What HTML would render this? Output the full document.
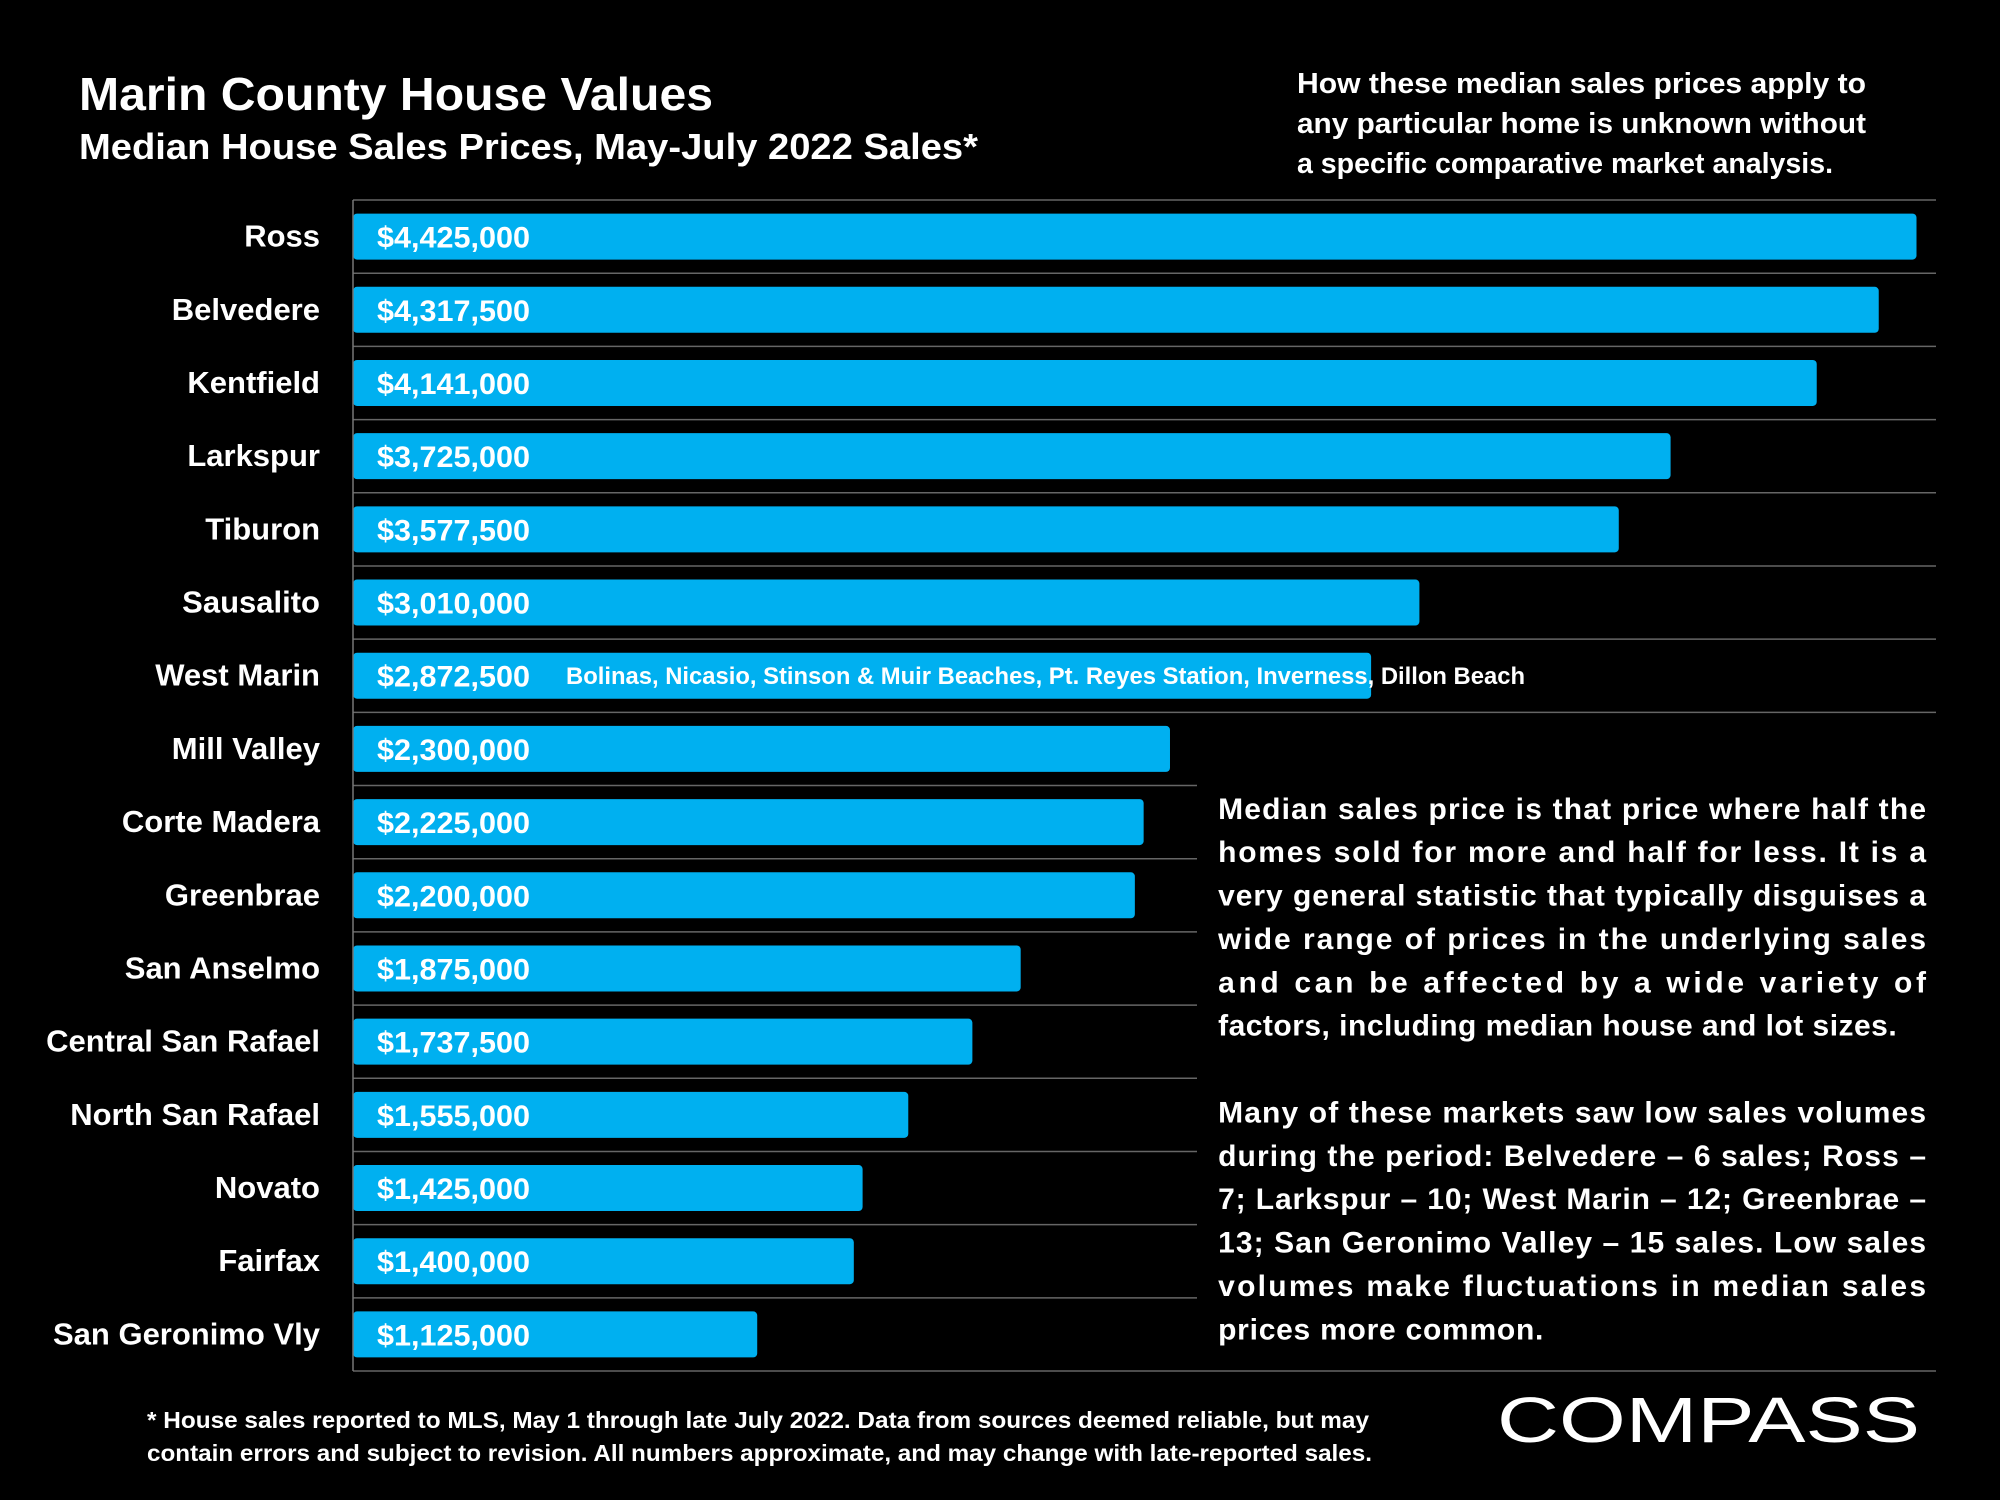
<!DOCTYPE html>
<html><head><meta charset="utf-8">
<style>
html,body{margin:0;padding:0;background:#000;}
svg{display:block;font-family:"Liberation Sans",sans-serif;font-weight:bold;}
</style></head>
<body>
<svg id="chart" width="2000" height="1500" viewBox="0 0 2000 1500">
<rect x="0" y="0" width="2000" height="1500" fill="#000"/>
<text x="79" y="110" font-size="46" fill="#fff" textLength="634" lengthAdjust="spacingAndGlyphs">Marin County House Values</text>
<text x="79" y="159" font-size="36" fill="#fff" textLength="899" lengthAdjust="spacingAndGlyphs">Median House Sales Prices, May-July 2022 Sales*</text>
<g font-size="29" fill="#fff">
<text x="1297" y="93" textLength="569" lengthAdjust="spacingAndGlyphs">How these median sales prices apply to</text>
<text x="1297" y="133" textLength="569" lengthAdjust="spacingAndGlyphs">any particular home is unknown without</text>
<text x="1297" y="173" textLength="536" lengthAdjust="spacingAndGlyphs">a specific comparative market analysis.</text>
</g>
<g id="grid"></g>
<g id="bars"></g>
<line x1="353" y1="200" x2="353" y2="1371" stroke="#777" stroke-width="1.5"/>
<text x="566" y="684" font-size="24" fill="#fff" textLength="959" lengthAdjust="spacingAndGlyphs">Bolinas, Nicasio, Stinson &amp; Muir Beaches, Pt. Reyes Station, Inverness, Dillon Beach</text>
<g id="para" font-size="30" fill="#fff"></g>
<g font-size="23" fill="#fff">
<text x="147" y="1428" textLength="1222" lengthAdjust="spacingAndGlyphs">* House sales reported to MLS, May 1 through late July 2022. Data from sources deemed reliable, but may</text>
<text x="147" y="1461" textLength="1225" lengthAdjust="spacingAndGlyphs">contain errors and subject to revision. All numbers approximate, and may change with late-reported sales.</text>
</g>
<text x="1497" y="1442" font-size="64" font-weight="normal" fill="#fff" textLength="423" lengthAdjust="spacingAndGlyphs">COMPASS</text>
</svg>
<script>
const categories = ["Ross","Belvedere","Kentfield","Larkspur","Tiburon","Sausalito","West Marin","Mill Valley","Corte Madera","Greenbrae","San Anselmo","Central San Rafael","North San Rafael","Novato","Fairfax","San Geronimo Vly"];
const values = [4425000,4317500,4141000,3725000,3577500,3010000,2872500,2300000,2225000,2200000,1875000,1737500,1555000,1425000,1400000,1125000];
const valueLabels = ["$4,425,000","$4,317,500","$4,141,000","$3,725,000","$3,577,500","$3,010,000","$2,872,500","$2,300,000","$2,225,000","$2,200,000","$1,875,000","$1,737,500","$1,555,000","$1,425,000","$1,400,000","$1,125,000"];
const NS="http://www.w3.org/2000/svg";
const axisX=353, zeroX=362, pxPerUnit=351.3/1000000;
const topY=200, step=(1371-200)/16, barH=46;
function xScale(v){return zeroX+v*pxPerUnit;}
function yCenter(i){return topY+step*(i+0.5);}
const grid=document.getElementById('grid'), bars=document.getElementById('bars');
for(let i=0;i<=categories.length;i++){
  const y=topY+step*i;
  const ln=document.createElementNS(NS,'line');
  
  
  const wide = i<=7 || i===categories.length;
  ln.setAttribute('x1',axisX);ln.setAttribute('x2',wide?1936:1197);
  ln.setAttribute('y1',y);ln.setAttribute('y2',y);
  ln.setAttribute('stroke','#666');ln.setAttribute('stroke-width','1.5');
  grid.appendChild(ln);
}
categories.forEach((c,i)=>{
  const yc=yCenter(i);
  const r=document.createElementNS(NS,'rect');
  
  
  r.setAttribute('x',axisX);r.setAttribute('y',yc-barH/2);
  r.setAttribute('width',xScale(values[i])-axisX);r.setAttribute('height',barH);
  r.setAttribute('rx',4);r.setAttribute('fill','#00B0F0');
  bars.appendChild(r);
  const vl=document.createElementNS(NS,'text');
  
  
  vl.setAttribute('x',377);vl.setAttribute('y',yc+11);
  vl.setAttribute('font-size','30');vl.setAttribute('fill','#fff');
  vl.setAttribute('textLength','153');vl.setAttribute('lengthAdjust','spacingAndGlyphs');
  vl.textContent=valueLabels[i];
  bars.appendChild(vl);
  const cl=document.createElementNS(NS,'text');
  
  
  cl.setAttribute('x',320);cl.setAttribute('y',yc+10);
  cl.setAttribute('text-anchor','end');
  cl.setAttribute('font-size','31');cl.setAttribute('fill','#fff');
  cl.textContent=c;
  bars.appendChild(cl);
});
const para=[
["Median sales price is that price where half the",632,1510],
["homes sold for more and half for less. It is a",666,1510],
["very general statistic that typically disguises a",700,1510],
["wide range of prices in the underlying sales",734,1510],
["and can be affected by a wide variety of",768,1510],
["factors, including median house and lot sizes.",802,1487],
["Many of these markets saw low sales volumes",870,1510],
["during the period:  Belvedere – 6 sales; Ross –",904,1510],
["7; Larkspur – 10; West Marin – 12; Greenbrae –",938,1510],
["13; San Geronimo Valley – 15 sales. Low sales",972,1510],
["volumes make fluctuations in median sales",1006,1510],
["prices more common.",1040,1210]];
const pg=document.getElementById('para'), k=2000/1568;
para.forEach(p=>{
  const t=document.createElementNS(NS,'text');
  
  
  t.setAttribute('x',955*k);t.setAttribute('y',(p[1]+10)*k);
  t.setAttribute('textLength',(p[2]-955)*k);
  t.setAttribute('lengthAdjust','spacing');
  t.textContent=p[0];
  pg.appendChild(t);
});
</script>
</body></html>
